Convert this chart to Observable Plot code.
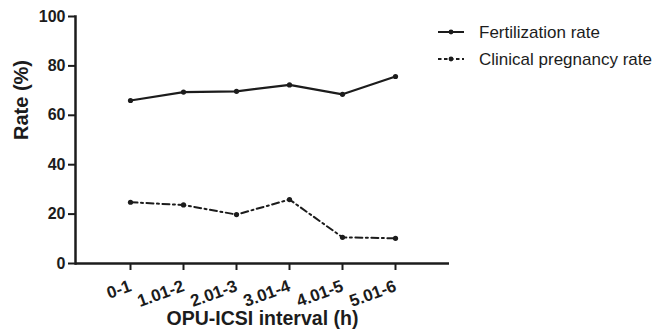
<!DOCTYPE html>
<html>
<head>
<meta charset="utf-8">
<script src="https://cdn.jsdelivr.net/npm/d3@7"></script>
<script src="https://cdn.jsdelivr.net/npm/@observablehq/plot@0.6"></script>
<style>
  html, body { margin: 0; padding: 0; background: #fff; }
  #wrap { position: relative; width: 654px; height: 335px; font-family: "Liberation Sans", Arial, sans-serif; }
  #legend { position: absolute; left: 0; top: 0; }
</style>
</head>
<body>
<div id="wrap"></div>
<script>
const intervals = ["0-1", "1.01-2", "2.01-3", "3.01-4", "4.01-5", "5.01-6"];
const fertilization = [66.0, 69.4, 69.7, 72.3, 68.5, 75.7];
const pregnancy = [24.8, 23.7, 19.8, 25.9, 10.6, 10.2];
const seriesNames = ["Fertilization rate", "Clinical pregnancy rate"];
const yTicks = [0, 20, 40, 60, 80, 100];

const ink = "#1c1c1c";
const dashes = [null, "7,3.5,2,3.5"];

const rows = [];
intervals.forEach((k, i) => {
  rows.push({interval: k, rate: fertilization[i], series: seriesNames[0]});
  rows.push({interval: k, rate: pregnancy[i], series: seriesNames[1]});
});

const chart = Plot.plot({
  width: 654,
  height: 335,
  marginLeft: 75,
  marginRight: 205,
  marginTop: 16,
  marginBottom: 72,
  style: {fontFamily: "'Liberation Sans', Arial, sans-serif", fontSize: "16px", color: ink, background: "#fff"},
  x: {type: "point", domain: intervals, padding: 1},
  y: {domain: [0, 100]},
  marks: [
    Plot.axisY({ticks: yTicks, tickSize: 7, tickPadding: 3, fontSize: 16, fontWeight: "bold", stroke: ink, strokeWidth: 2, strokeOpacity: 1, label: null}),
    Plot.axisX({tickSize: 7, tickPadding: 15, tickRotate: -20, fontSize: 17, fontWeight: "bold", stroke: ink, strokeWidth: 2, strokeOpacity: 1, label: null}),
    Plot.frame({anchor: "left", stroke: ink, strokeWidth: 2.5, strokeOpacity: 1}),
    Plot.ruleY([0], {stroke: ink, strokeWidth: 2.5}),
    Plot.line(rows.filter(d => d.series === seriesNames[0]), {x: "interval", y: "rate", stroke: ink, strokeWidth: 2.2}),
    Plot.line(rows.filter(d => d.series === seriesNames[1]), {x: "interval", y: "rate", stroke: ink, strokeWidth: 2, strokeDasharray: dashes[1]}),
    Plot.dot(rows, {x: "interval", y: "rate", r: 2.6, fill: ink, stroke: "none"}),
    Plot.text(["Rate (%)"], {frameAnchor: "left", dx: -54, rotate: -90, fontSize: 20, fontWeight: "bold", fill: ink}),
    Plot.text(["OPU-ICSI interval (h)"], {frameAnchor: "bottom", dy: 61, fontSize: 19.5, fontWeight: "bold", fill: ink})
  ]
});
document.getElementById("wrap").appendChild(chart);

// Enforce heavy axis styling
const svg = d3.select(chart.tagName.toLowerCase() === "svg" ? chart : chart.querySelector("svg"));
svg.selectAll('[aria-label="frame"], [aria-label="frame"] *')
  .attr("stroke", ink).attr("stroke-width", 2.5).attr("stroke-opacity", 1);
svg.selectAll('[aria-label="y-axis tick"], [aria-label="x-axis tick"]')
  .attr("stroke", ink).attr("stroke-width", 2).attr("stroke-opacity", 1);
svg.selectAll('[aria-label="y-axis tick label"]').attr("font-size", 16).attr("font-weight", "bold").attr("fill", ink);
svg.selectAll('[aria-label="x-axis tick label"]').attr("font-size", 17).attr("font-weight", "bold").attr("fill", ink);

// Legend overlay
const leg = d3.select("#wrap").append("svg")
  .attr("id", "legend").attr("width", 654).attr("height", 80);
seriesNames.forEach((name, i) => {
  const y = 32 + i * 27;
  leg.append("line").attr("x1", 438).attr("x2", 464).attr("y1", y).attr("y2", y)
    .attr("stroke", ink).attr("stroke-width", 2)
    .attr("stroke-dasharray", dashes[i] ? "3.5,2.5" : null);
  leg.append("circle").attr("cx", 451).attr("cy", y).attr("r", 2.4).attr("fill", ink);
  leg.append("text").attr("x", 479).attr("y", y).attr("dy", "0.35em")
    .attr("font-size", 17).attr("fill", ink)
    .attr("font-family", "'Liberation Sans', Arial, sans-serif").text(name);
});
</script>
</body>
</html>
